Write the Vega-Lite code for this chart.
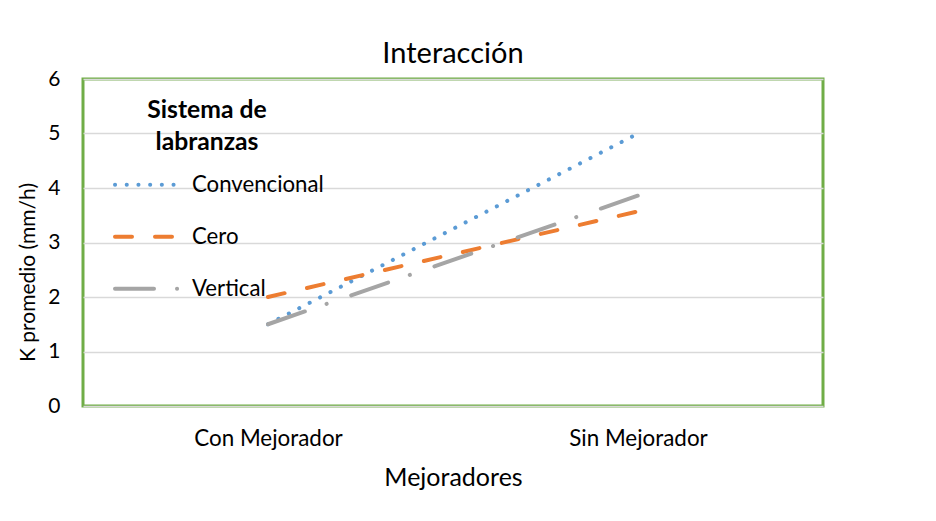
{
  "$schema": "https://vega.github.io/schema/vega-lite/v6.json",
  "width": 740,
  "height": 327,
  "autosize": "none",
  "padding": {"left": 83, "top": 79, "right": 113, "bottom": 115},
  "background": "white",
  "title": {"text": "Interacción", "fontSize": 29, "font": "Lato", "fontWeight": "normal", "color": "#000", "offset": 2, "dy": 3, "anchor": "middle"},
  "config": {"view": {"stroke": "#70AD47", "strokeWidth": 3}, "font": "Lato"},
  "data": {"values": [
    {"mejorador": "Con Mejorador", "sistema": "Convencional", "k": 1.5},
    {"mejorador": "Sin Mejorador", "sistema": "Convencional", "k": 5.0},
    {"mejorador": "Con Mejorador", "sistema": "Cero", "k": 2.0},
    {"mejorador": "Sin Mejorador", "sistema": "Cero", "k": 3.57},
    {"mejorador": "Con Mejorador", "sistema": "Vertical", "k": 1.5},
    {"mejorador": "Sin Mejorador", "sistema": "Vertical", "k": 3.86}
  ]},
  "mark": {"type": "line", "strokeWidth": 4, "strokeCap": "round"},
  "encoding": {
    "x": {"field": "mejorador", "type": "nominal", "sort": ["Con Mejorador", "Sin Mejorador"],
      "scale": {"type": "point", "padding": 0.5},
      "axis": {"title": "Mejoradores", "labelAngle": 0, "domain": false, "ticks": false, "labelFontSize": 22.4, "titleFontSize": 25, "labelPadding": 21, "titlePadding": 16, "titleFontWeight": "normal", "labelColor": "#000", "titleColor": "#000"}},
    "y": {"field": "k", "type": "quantitative", "scale": {"domain": [0, 6]},
      "axis": {"title": "K promedio (mm/h)", "values": [0, 1, 2, 3, 4, 5, 6], "domain": false, "ticks": false, "labelFontSize": 21, "labelPadding": 23, "titleFontSize": 21, "titlePadding": 9, "titleY": 193, "titleFontWeight": "normal", "gridColor": "#D9D9D9", "gridWidth": 1.5, "labelColor": "#000", "titleColor": "#000"}},
    "color": {"field": "sistema", "type": "nominal",
      "scale": {"domain": ["Convencional", "Cero", "Vertical"], "range": ["#5B9BD5", "#ED7D31", "#A5A5A5"]},
      "legend": {"title": ["Sistema de", "labranzas"], "orient": "none", "legendX": 30, "legendY": 19, "titleFontSize": 24.7, "titleFontWeight": "bold", "titleLineHeight": 32, "titleAnchor": "middle", "titlePadding": -4, "labelFontSize": 22.2, "labelColor": "#000", "titleColor": "#000", "symbolType": "stroke", "symbolSize": 4096, "symbolStrokeWidth": 4, "rowPadding": 6, "labelOffset": 11, "padding": 0,
        "encode": {"symbols": {"update": {"strokeCap": {"value": "round"}}}, "title": {"update": {"dx": {"value": -11}}}}}},
    "strokeDash": {"field": "sistema", "type": "nominal",
      "scale": {"domain": ["Convencional", "Cero", "Vertical"], "range": [[0.1, 11.6], [17, 23], [39, 23, 0.1, 26]]},
      "legend": {"title": ["Sistema de", "labranzas"], "orient": "none", "legendX": 30, "legendY": 19, "titleFontSize": 24.7, "titleFontWeight": "bold", "titleLineHeight": 32, "titleAnchor": "middle", "titlePadding": -4, "labelFontSize": 22.2, "labelColor": "#000", "titleColor": "#000", "symbolType": "stroke", "symbolSize": 4096, "symbolStrokeWidth": 4, "rowPadding": 6, "labelOffset": 11, "padding": 0,
        "encode": {"symbols": {"update": {"strokeCap": {"value": "round"}}}, "title": {"update": {"dx": {"value": -11}}}}}}
  }
}
